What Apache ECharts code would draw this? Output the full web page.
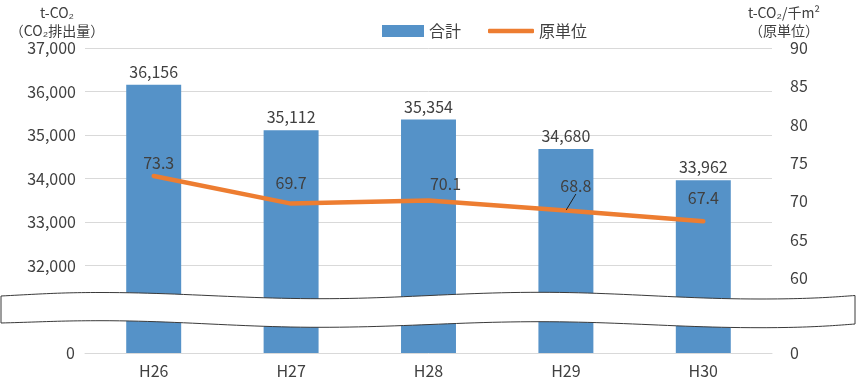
<!DOCTYPE html>
<html>
<head>
<meta charset="utf-8">
<script src="https://cdn.jsdelivr.net/npm/echarts@6/dist/echarts.min.js"></script>
<style>
html,body{margin:0;padding:0;background:#fff;}
#chart{width:857px;height:379px;}
</style>
</head>
<body>
<div id="chart"></div>
<script>
const categories = ['H26', 'H27', 'H28', 'H29', 'H30'];
const totals = [36156, 35112, 35354, 34680, 33962];
const intensity = [73.3, 69.7, 70.1, 68.8, 67.4];
const seriesNames = ['合計', '原単位'];
const leftAxisName = 't-CO₂\n（CO₂排出量）';
const rightAxisName = 't-CO₂/千m²\n（原単位）';

// label nudges for the line labels (style only)
const lineLabelOffsets = [[5, 0], [0, -7], [17, -3], [10, -11], [0, -10]];
const leaderLineOn = [false, false, false, true, false];

const FONT = '"Liberation Sans Narrow", "Noto Sans CJK JP", sans-serif';
const JFONT = '"Noto Sans CJK JP", sans-serif';
const TXT = '#404040';
const GRIDC = '#D9D9D9';
const BLUE = '#5592C8';
const ORANGE = '#ED7D31';
const fmt = v => Math.round(v).toLocaleString('en-US');

// decorative wavy break band (screen geometry, not data)
function bez(p0, p1, p2, p3, n) {
  const out = [];
  for (let i = 0; i <= n; i++) {
    const t = i / n, u = 1 - t;
    out.push([
      u*u*u*p0[0] + 3*u*u*t*p1[0] + 3*u*t*t*p2[0] + t*t*t*p3[0],
      u*u*u*p0[1] + 3*u*u*t*p1[1] + 3*u*t*t*p2[1] + t*t*t*p3[1]
    ]);
  }
  return out;
}
function curve(segs) {
  let pts = [];
  segs.forEach(s => { pts = pts.concat(bez(s[0], s[1], s[2], s[3], 24)); });
  return pts;
}
const topEdge = curve([
  [[1, 296], [40, 294], [60, 292.5], [100, 292.5]],
  [[100, 292.5], [180, 292.5], [240, 298.7], [320, 298.7]],
  [[320, 298.7], [400, 298.7], [460, 292.3], [540, 292.3]],
  [[540, 292.3], [620, 292.3], [680, 299], [760, 299]],
  [[760, 299], [810, 299], [835, 297], [855, 295.5]]
]);
const botEdge = curve([
  [[855, 324], [835, 325.5], [810, 327.7], [760, 327.7]],
  [[760, 327.7], [680, 327.7], [620, 321.7], [540, 321.7]],
  [[540, 321.7], [460, 321.7], [400, 327.3], [320, 327.3]],
  [[320, 327.3], [240, 327.3], [180, 320.7], [100, 320.7]],
  [[100, 320.7], [60, 320.7], [40, 322], [1, 323]]
]);
const bandPoints = topEdge.concat(botEdge);

const chart = echarts.init(document.getElementById('chart'));

const L = 85, R = 85;
const option = {
  backgroundColor: '#fff',
  animation: false,
  textStyle: { fontFamily: FONT },
  legend: [
    {
      left: 377, top: 18,
      itemWidth: 42, itemHeight: 12,
      textStyle: { fontSize: 16, color: TXT, fontFamily: JFONT },
      data: [{ name: seriesNames[0], icon: 'rect' }]
    },
    {
      left: 483, top: 18,
      itemWidth: 46, itemHeight: 4.5, itemGap: 10,
      textStyle: { fontSize: 16, color: TXT, fontFamily: JFONT },
      data: [{ name: seriesNames[1], icon: 'roundRect' }]
    }
  ],
  grid: [
    { left: L, right: R, top: 48, height: 261 },
    { left: L, right: R, top: 48, height: 268.3 },
    { left: L, right: R, top: 309.5, height: 43.5 }
  ],
  xAxis: [
    { type: 'category', gridIndex: 0, data: categories, show: false },
    { type: 'category', gridIndex: 1, data: categories, show: false },
    {
      type: 'category', gridIndex: 2, data: categories,
      axisLine: { show: true, lineStyle: { color: GRIDC, width: 1 } },
      axisTick: { show: false },
      axisLabel: { fontSize: 16, color: TXT, margin: 10, fontFamily: FONT }
    }
  ],
  yAxis: [
    {
      type: 'value', gridIndex: 0, position: 'left',
      min: 31000, max: 37000, interval: 1000,
      axisLine: { show: false }, axisTick: { show: false },
      splitLine: { lineStyle: { color: GRIDC, width: 1 } },
      axisLabel: { showMinLabel: false, fontSize: 16, color: TXT, margin: 9, formatter: fmt, fontFamily: FONT },
      name: leftAxisName, nameLocation: 'end', nameGap: 8,
      nameTextStyle: { fontSize: 14, color: TXT, fontFamily: JFONT, align: 'center', lineHeight: 18, padding: [0, 56, 0, 0] }
    },
    {
      type: 'value', gridIndex: 1, position: 'right',
      min: 55, max: 90, interval: 5,
      axisLine: { show: false }, axisTick: { show: false },
      splitLine: { show: false },
      axisLabel: { showMinLabel: false, fontSize: 16, color: TXT, margin: 18, fontFamily: FONT },
      name: rightAxisName, nameLocation: 'end', nameGap: 8,
      nameTextStyle: { fontSize: 14, color: TXT, fontFamily: JFONT, align: 'center', lineHeight: 18, padding: [0, 0, 0, 24] }
    },
    {
      type: 'value', gridIndex: 2, position: 'left',
      min: 0, max: 1000, interval: 1000,
      axisLine: { show: false }, axisTick: { show: false },
      splitLine: { show: false },
      axisLabel: { showMaxLabel: false, fontSize: 16, color: TXT, margin: 10, fontFamily: FONT }
    },
    {
      type: 'value', gridIndex: 2, position: 'right',
      min: 0, max: 5, interval: 5,
      axisLine: { show: false }, axisTick: { show: false },
      splitLine: { show: false },
      axisLabel: { showMaxLabel: false, fontSize: 16, color: TXT, margin: 18, fontFamily: FONT }
    }
  ],
  series: [
    {
      name: seriesNames[0], type: 'bar', xAxisIndex: 0, yAxisIndex: 0,
      data: totals, barWidth: '40%', clip: true,
      itemStyle: { color: BLUE },
      label: { show: true, position: 'top', distance: 5, fontSize: 16, color: TXT, formatter: p => fmt(p.value), fontFamily: FONT }
    },
    {
      name: seriesNames[0], type: 'bar', xAxisIndex: 2, yAxisIndex: 2,
      data: totals, barWidth: '40%', clip: true,
      itemStyle: { color: BLUE }
    },
    {
      name: seriesNames[1], type: 'line', xAxisIndex: 1, yAxisIndex: 1,
      data: intensity.map((v, i) => ({
        value: v,
        labelLine: { show: leaderLineOn[i] }
      })),
      symbol: 'circle', symbolSize: 1, showSymbol: true,
      lineStyle: { color: ORANGE, width: 4.5, cap: 'round', join: 'round' },
      itemStyle: { color: ORANGE },
      label: { show: true, position: 'top', distance: 5, fontSize: 16, color: TXT, formatter: p => p.value.toFixed(1), fontFamily: FONT },
      labelLine: { show: false, lineStyle: { color: '#202020', width: 1 } },
      labelLayout: p => ({ dx: lineLabelOffsets[p.dataIndex][0], dy: lineLabelOffsets[p.dataIndex][1] }),
      z: 3
    }
  ],
  graphic: [
    {
      type: 'polygon', z: 100, silent: true,
      shape: { points: bandPoints },
      style: { fill: '#fff', stroke: '#3a3a3a', lineWidth: 1 }
    }
  ]
};
chart.setOption(option);
</script>
</body>
</html>
